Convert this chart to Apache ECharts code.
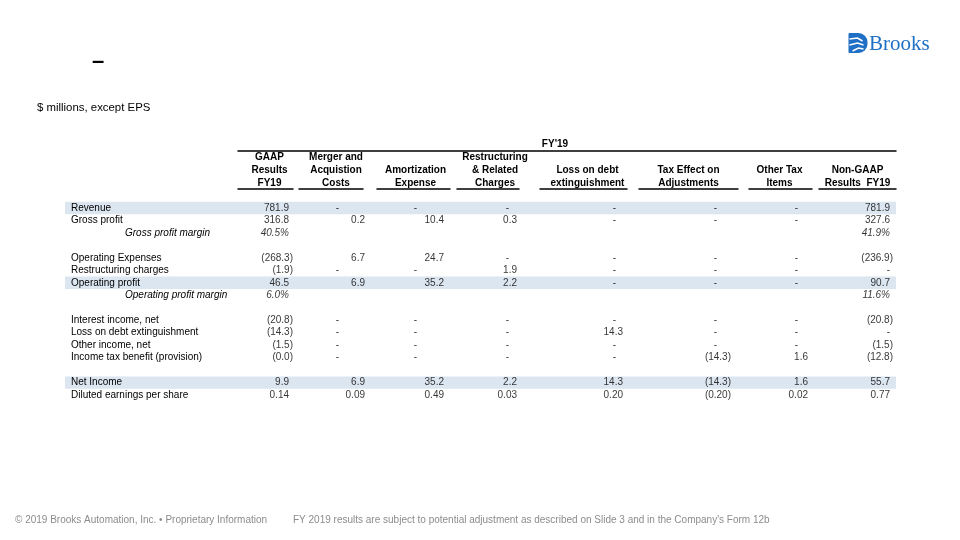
<!DOCTYPE html>
<html>
<head>
<meta charset="utf-8">
<script src="https://cdn.jsdelivr.net/npm/echarts@6/dist/echarts.min.js"></script>
<style>
html,body{margin:0;padding:0;background:#fff;}
#chart{width:960px;height:540px;}
</style>
</head>
<body>
<div id="chart"></div>
<script>
// ---------- DATA ----------
const ROWS = ['Revenue', 'Gross profit', 'Gross profit margin', ' ', 'Operating Expenses', 'Restructuring charges',
  'Operating profit', 'Operating profit margin', '  ', 'Interest income, net', 'Loss on debt extinguishment',
  'Other income, net', 'Income tax benefit (provision)', '   ', 'Net Income', 'Diluted earnings per share'];
const HIGHLIGHT_ROWS = ['Revenue', 'Operating profit', 'Net Income'];
const PCT_ROWS = ['Gross profit margin', 'Operating profit margin'];
const EPS_ROWS = ['Diluted earnings per share'];
const SPAN_HEADER = "FY'19";
const COLUMNS = ['GAAP\nResults\nFY19', 'Merger and\nAcquistion\nCosts', 'Amortization\nExpense',
  'Restructuring\n& Related\nCharges', 'Loss on debt\nextinguishment', 'Tax Effect on\nAdjustments',
  'Other Tax\nItems', 'Non-GAAP\nResults  FY19'];
// null = empty cell, 0 = "-", -0 = "(0.0)"
const GAAP     = [781.9, 316.8, 40.5, null, -268.3, -1.9, 46.5, 6.0, null, -20.8, -14.3, -1.5, -0, null, 9.9, 0.14];
const MERGER   = [0, 0.2, null, null, 6.7, 0, 6.9, null, null, 0, 0, 0, 0, null, 6.9, 0.09];
const AMORT    = [0, 10.4, null, null, 24.7, 0, 35.2, null, null, 0, 0, 0, 0, null, 35.2, 0.49];
const RESTRUCT = [0, 0.3, null, null, 0, 1.9, 2.2, null, null, 0, 0, 0, 0, null, 2.2, 0.03];
const LOSSDEBT = [0, 0, null, null, 0, 0, 0, null, null, 0, 14.3, 0, 0, null, 14.3, 0.20];
const TAXEFF   = [0, 0, null, null, 0, 0, 0, null, null, 0, 0, 0, -14.3, null, -14.3, -0.20];
const OTHERTAX = [0, 0, null, null, 0, 0, 0, null, null, 0, 0, 0, 1.6, null, 1.6, 0.02];
const NONGAAP  = [781.9, 327.6, 41.9, null, -236.9, 0, 90.7, 11.6, null, -20.8, 0, -1.5, -12.8, null, 55.7, 0.77];
const COLUMN_VALUES = [GAAP, MERGER, AMORT, RESTRUCT, LOSSDEBT, TAXEFF, OTHERTAX, NONGAAP];

// ---------- LAYOUT / STYLE ----------
const FONT = "'Liberation Sans', Arial, sans-serif";
const ROW_TOP = 201.8, ROW_H = 12.47;
const TABLE_LEFT = 65, TABLE_RIGHT = 896;
const HEADER_LINE_Y = 189, SPAN_LINE_Y = 150.5;
// column band [left,right], right paddings for positive numbers / negatives / dashes, header shift
const COL_LAYOUT = [
  {l: 238, r: 293, pos: 4, neg: 0, dash: 12, hs: 4},
  {l: 299, r: 363, pos: -2, neg: -6, dash: 24, hs: 5},
  {l: 377, r: 450, pos: 6, neg: 2, dash: 33, hs: 2},
  {l: 457, r: 519, pos: 2, neg: -2, dash: 10, hs: 7},
  {l: 540, r: 627, pos: 4, neg: 0, dash: 11, hs: 4},
  {l: 639, r: 738, pos: 11, neg: 7, dash: 21, hs: 0},
  {l: 749, r: 812, pos: 4, neg: 0, dash: 14, hs: -1},
  {l: 819, r: 896, pos: 6, neg: 3, dash: 6, hs: 0}
];

function fmt(v, row) {
  const name = ROWS[row];
  if (v === null) return null;
  if (PCT_ROWS.includes(name)) return v.toFixed(1) + '%';
  if (v === 0 && !Object.is(v, -0)) return '-';
  const d = EPS_ROWS.includes(name) ? 2 : 1;
  const s = Math.abs(v).toFixed(d);
  return (v < 0 || Object.is(v, -0)) ? '(' + s + ')' : s;
}

const grids = [], xAxes = [], yAxes = [], series = [];
const gridH = ROW_H * ROWS.length;

// grid 0: row labels + highlight bands
grids.push({left: TABLE_LEFT, top: ROW_TOP, width: TABLE_RIGHT - TABLE_LEFT, height: gridH});
xAxes.push({gridIndex: 0, type: 'value', min: 0, max: 1, show: false});
yAxes.push({
  gridIndex: 0, type: 'category', data: ROWS, inverse: true, z: 10,
  axisLine: {show: false}, axisTick: {show: false}, splitLine: {show: false},
  axisLabel: {
    inside: true, interval: 0, margin: 6, color: '#000', fontFamily: FONT, fontSize: 10,
    hideOverlap: false,
    formatter: function (v) { return PCT_ROWS.includes(v) ? '{it|' + v + '}' : v; },
    rich: {it: {fontStyle: 'italic', fontFamily: FONT, fontSize: 10, color: '#000', padding: [0, 0, 0, 54]}}
  }
});
series.push({
  type: 'bar', xAxisIndex: 0, yAxisIndex: 0, barCategoryGap: 0, z: 1, silent: true,
  itemStyle: {color: '#DCE6F1'},
  data: ROWS.map(r => HIGHLIGHT_ROWS.includes(r) ? 1 : null)
});

// column grids
COLUMNS.forEach(function (col, i) {
  const L = COL_LAYOUT[i];
  const gi = grids.length;
  grids.push({left: L.l, top: ROW_TOP, width: L.r - L.l, height: gridH});
  xAxes.push({
    gridIndex: gi, type: 'value', min: 0, max: 1, position: 'top', offset: ROW_TOP - HEADER_LINE_Y,
    axisLine: {show: true, onZero: false, lineStyle: {color: '#000', width: 1.5}},
    axisTick: {show: false}, axisLabel: {show: false}, splitLine: {show: false},
    name: col, nameLocation: 'middle', nameGap: -1,
    nameTextStyle: {fontWeight: 'bold', fontSize: 10, lineHeight: 13, color: '#000', fontFamily: FONT,
      padding: L.hs >= 0 ? [0, 0, 0, 2 * L.hs] : [0, -2 * L.hs, 0, 0]}
  });
  yAxes.push({gridIndex: gi, type: 'category', data: ROWS, inverse: true, show: false});
  const vals = COLUMN_VALUES[i];
  const data = [];
  vals.forEach(function (v, r) {
    const t = fmt(v, r);
    if (t === null) return;
    let pad = L.pos, italic = false;
    if (PCT_ROWS.includes(ROWS[r])) { italic = true; }
    else if (t === '-') pad = L.dash;
    else if (t.charAt(0) === '(') pad = L.neg;
    data.push({
      value: [1, r], name: t,
      label: {offset: [-pad, 0], fontStyle: italic ? 'italic' : 'normal'}
    });
  });
  series.push({
    type: 'scatter', xAxisIndex: gi, yAxisIndex: gi, symbolSize: 0, z: 5, silent: true,
    label: {
      show: true, position: 'left', distance: 0, color: '#000', fontFamily: FONT, fontSize: 10,
      formatter: function (p) { return p.name; }
    },
    data: data
  });
});

// spanning header grid (FY'19)
(function () {
  const gi = grids.length;
  grids.push({left: COL_LAYOUT[0].l, top: ROW_TOP, width: COL_LAYOUT[7].r - COL_LAYOUT[0].l, height: gridH});
  xAxes.push({
    gridIndex: gi, type: 'value', min: 0, max: 1, position: 'top', offset: ROW_TOP - SPAN_LINE_Y,
    axisLine: {show: true, onZero: false, lineStyle: {color: '#000', width: 1.5}},
    axisTick: {show: false}, axisLabel: {show: false}, splitLine: {show: false},
    name: SPAN_HEADER, nameLocation: 'middle', nameGap: 0,
    nameTextStyle: {fontWeight: 'bold', fontSize: 10, lineHeight: 13, color: '#000', fontFamily: FONT, padding: [0, 24, 0, 0]}
  });
  yAxes.push({gridIndex: gi, type: 'category', data: ROWS, inverse: true, show: false});
  series.push({type: 'scatter', xAxisIndex: gi, yAxisIndex: gi, data: []});
})();

const chart = echarts.init(document.getElementById('chart'), null, {renderer: 'canvas'});
chart.setOption({
  animation: false,
  backgroundColor: '#fff',
  grid: grids, xAxis: xAxes, yAxis: yAxes, series: series,
  graphic: [
    {type: 'text', left: 92, top: 51, style: {text: '–', font: 'bold 22px ' + FONT, fill: '#000'}},
    {type: 'text', left: 37, top: 102, style: {text: '$ millions, except EPS', font: '11.4px ' + FONT, fill: '#000'}},
    // logo
    {type: 'group', left: 847, top: 33, children: [
      {type: 'rect', shape: {x: 0, y: 0, width: 19, height: 20, r: [1, 9, 9, 1]}, style: {fill: '#1f6fc5'}},
      {type: 'polyline', shape: {points: [[1, 6], [9, 5], [14, 8]]}, style: {stroke: '#fff', lineWidth: 1.6, fill: null}},
      {type: 'polyline', shape: {points: [[1, 12], [9, 10], [15, 12]]}, style: {stroke: '#fff', lineWidth: 1.6, fill: null}},
      {type: 'polyline', shape: {points: [[4, 18], [10, 15], [15, 16]]}, style: {stroke: '#fff', lineWidth: 1.4, fill: null}}
    ]},
    {type: 'text', left: 869, top: 34, style: {text: 'Brooks', font: '21px "Liberation Serif", serif', fill: '#1f6fc5'}},
    // footer
    {type: 'text', left: 15, top: 515, style: {text: '© 2019 Brooks Automation, Inc. • Proprietary Information', font: '10px ' + FONT, fill: '#8c8c8c'}},
    {type: 'text', left: 293, top: 515, style: {text: "FY 2019 results are subject to potential adjustment as described on Slide 3 and in the Company's Form 12b", font: '10px ' + FONT, fill: '#8c8c8c'}}
  ]
});
</script>
</body>
</html>
